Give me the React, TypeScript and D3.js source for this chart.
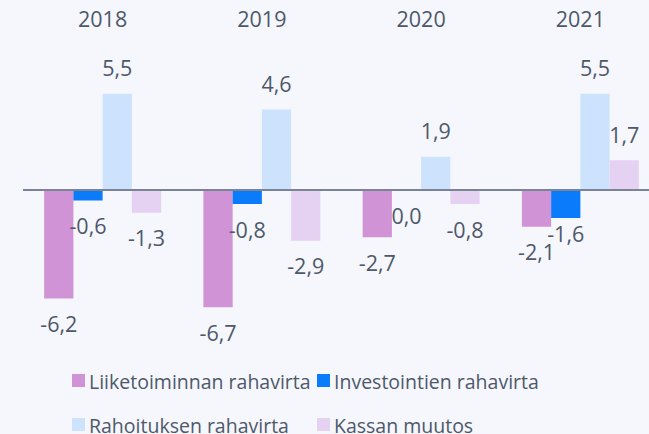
import React from "react";
import * as d3 from "d3";

const years = ["2018", "2019", "2020", "2021"];
const seriesNames = [
  "Liiketoiminnan rahavirta",
  "Investointien rahavirta",
  "Rahoituksen rahavirta",
  "Kassan muutos",
];
const liiketoiminta = [-6.2, -6.7, -2.7, -2.1];
const investoinnit = [-0.6, -0.8, 0.0, -1.6];
const rahoitus = [5.5, 4.6, 1.9, 5.5];
const kassa = [-1.3, -2.9, -0.8, 1.7];
const seriesValues = [liiketoiminta, investoinnit, rahoitus, kassa];
const colors = ["#D093D5", "#0A7BFB", "#CDE3FD", "#E5D2F3"];

const W = 649;
const H = 434;
const FONT = "'Open Sans', sans-serif";
const TEXT = "#4E586A";
const FS_NUM = 21.5;
const FS_LEG = 19.5;

const locale = d3.formatLocale({
  decimal: ",",
  thousands: " ",
  grouping: [3],
  currency: ["", "€"],
  minus: "-",
});
const fmt = locale.format(".1f");

export default function App() {
  const x0 = d3
    .scaleBand<string>()
    .domain(years)
    .range([23, 660])
    .paddingInner(0.2655)
    .paddingOuter(0.13275);
  const x1 = d3
    .scaleBand<string>()
    .domain(seriesNames)
    .range([0, x0.bandwidth()]);
  const y = d3
    .scaleLinear()
    .domain([-6.7, 5.5])
    .range([190 + 6.7 * 17.5, 190 - 5.5 * 17.5]);

  const legendPos = [
    [72, 374],
    [317, 374],
    [72, 418],
    [317, 418],
  ];

  // label layout with simple collision avoidance
  const labels: { x: number; y: number; t: string; key: string }[] = [];
  years.forEach((yr, i) => {
    const gx = x0(yr) as number;
    let prev: { x: number; y: number; w: number } | null = null;
    seriesNames.forEach((s, j) => {
      const v = seriesValues[j][i];
      const t = fmt(v);
      const cx = gx + (x1(s) as number) + x1.bandwidth() / 2;
      let ly = v > 0 ? y(v) - 17.5 : y(v) + 33.5;
      const w = t.length * 11;
      if (prev && v <= 0) {
        const hOverlap = Math.abs(cx - prev.x) < (w + prev.w) / 2;
        const vOverlap = Math.abs(ly - prev.y) < 16;
        if (hOverlap && vOverlap) ly = prev.y - 18.5;
      }
      labels.push({ x: cx, y: ly, t, key: yr + s });
      prev = { x: cx, y: ly, w };
    });
  });

  return (
    <svg
      width={W}
      height={H}
      style={{ position: "absolute", left: 0, top: 0, background: "#F5F7FC" }}
      fontFamily={FONT}
    >
      <rect x={0} y={0} width={W} height={H} fill="#F5F7FC" />
      {years.map((yr) => (
        <text
          key={yr}
          x={(x0(yr) as number) + x0.bandwidth() / 2}
          y={27}
          textAnchor="middle"
          fontSize={FS_NUM}
          fill={TEXT}
        >
          {yr}
        </text>
      ))}
      {years.map((yr, i) => (
        <g key={yr} transform={`translate(${x0(yr)},0)`}>
          {seriesNames.map((s, j) => {
            const v = seriesValues[j][i];
            const bx = x1(s) as number;
            const top = y(Math.max(0, v));
            const bot = y(Math.min(0, v));
            return (
              <rect
                key={s}
                x={bx}
                y={top}
                width={x1.bandwidth()}
                height={bot - top}
                fill={colors[j]}
              />
            );
          })}
        </g>
      ))}
      <line x1={23} x2={W} y1={y(0)} y2={y(0)} stroke="#7B8396" strokeWidth={2} />
      {labels.map((l) => (
        <text
          key={l.key}
          x={l.x}
          y={l.y}
          textAnchor="middle"
          fontSize={FS_NUM}
          fill={TEXT}
        >
          {l.t}
        </text>
      ))}
      {seriesNames.map((s, j) => (
        <g key={"lg" + s} transform={`translate(${legendPos[j][0]},${legendPos[j][1]})`}>
          <rect x={0} y={0} width={13} height={13} fill={colors[j]} />
          <text x={17} y={14.5} fontSize={FS_LEG} fill={TEXT}>
            {s}
          </text>
        </g>
      ))}
    </svg>
  );
}
